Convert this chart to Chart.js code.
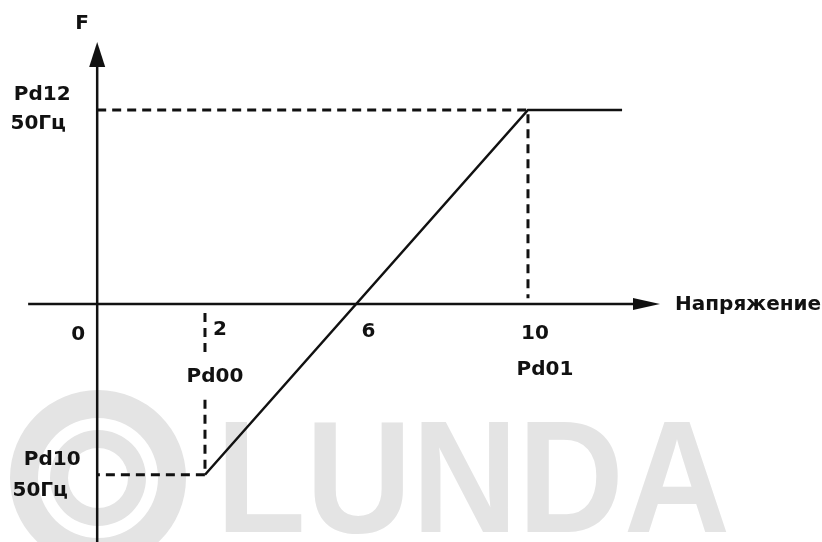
<!DOCTYPE html>
<html>
<head>
<meta charset="utf-8">
<script src="https://cdn.jsdelivr.net/npm/chart.js@4.4.1/dist/chart.umd.min.js"></script>
<style>
  html, body { margin: 0; padding: 0; background: #fff; }
  #chart { display: block; }
</style>
</head>
<body>
<canvas id="chart" width="822" height="542"></canvas>
<script>
// характеристика: напряжение -> частота
const voltage = [2, 10, 12.33];
const freq = [-44, 50, 50];

// пунктирные выноски
const guideUpperX = [-0.67, 10, 10];
const guideUpperY = [50, 50, 1.5];
const guideLowerX = [2, 2, null, 2, 2, -0.67];
const guideLowerY = [-2.3, -12.4, null, -24.7, -44, -44];

// подписи
const xTickValues = [2, 6, 10];
const xTickLabels = ['2', '6', '10'];
const xParamValues = [2, 10];
const xParamLabels = ['Pd00', 'Pd01'];
const yParamValues = [50, -44];
const yParamLabels = [['Pd12', '50Гц'], ['Pd10', '50Гц']];
const originLabel = '0';
const xAxisTitle = 'Напряжение';
const yAxisTitle = 'F';

const Y_AXIS_AT = -0.67;
const X_AXIS_FROM = -2.38, X_AXIS_TO = 13.27;
const Y_AXIS_TO = 67.5;

const FONT = 'bold 20px "DejaVu Sans", "Liberation Sans", Arial, sans-serif';
const INK = '#111';

function toPoints(xs, ys) {
    return xs.map((x, i) => (x === null ? { x: NaN, y: null } : { x: x, y: ys[i] }));
}

const watermark = {
    id: 'watermark',
    beforeDatasetsDraw(chart) {
        const ctx = chart.ctx;
        ctx.save();
        ctx.fillStyle = '#fff';
        ctx.fillRect(0, 0, chart.width, chart.height);
        ctx.fillStyle = '#e4e4e4';
        // логотип
        const cx = 98, cy = 478;
        ctx.beginPath();
        ctx.arc(cx, cy, 88, 0, Math.PI * 2);
        ctx.arc(cx, cy, 60, 0, Math.PI * 2, true);
        ctx.fill();
        ctx.beginPath();
        ctx.arc(cx, cy, 48, 0, Math.PI * 2);
        ctx.arc(cx, cy, 30, 0, Math.PI * 2, true);
        ctx.fill();
        ctx.font = 'bold 160px "Liberation Sans", Arial, sans-serif';
        ctx.textBaseline = 'alphabetic';
        ctx.fillText('LUNDA', 216, 532, 514);
        ctx.restore();
    }
};

const axesAndLabels = {
    id: 'axesAndLabels',
    afterDatasetsDraw(chart) {
        const ctx = chart.ctx;
        const xs = chart.scales.x, ys = chart.scales.y;
        const ax = xs.getPixelForValue(Y_AXIS_AT);
        const ay = ys.getPixelForValue(0);
        const x0 = xs.getPixelForValue(X_AXIS_FROM);
        const x1 = xs.getPixelForValue(X_AXIS_TO);
        const y1 = ys.getPixelForValue(Y_AXIS_TO);
        ctx.save();
        ctx.strokeStyle = INK;
        ctx.fillStyle = INK;
        ctx.lineWidth = 2.5;
        ctx.beginPath();
        ctx.moveTo(x0, ay); ctx.lineTo(x1 - 20, ay);
        ctx.moveTo(ax, chart.height); ctx.lineTo(ax, y1 + 20);
        ctx.stroke();
        // стрелки
        ctx.beginPath();
        ctx.moveTo(x1, ay); ctx.lineTo(x1 - 27, ay - 6); ctx.lineTo(x1 - 27, ay + 6); ctx.closePath();
        ctx.fill();
        ctx.beginPath();
        ctx.moveTo(ax, y1); ctx.lineTo(ax - 8, y1 + 25); ctx.lineTo(ax + 8, y1 + 25); ctx.closePath();
        ctx.fill();

        ctx.font = FONT;
        ctx.textAlign = 'center';
        ctx.textBaseline = 'middle';
        ctx.fillText(yAxisTitle, ax - 15, 24);
        ctx.fillText(originLabel, ax - 19, ay + 31);

        const tickDx = [15, 2, 7], tickDy = [26, 28, 30];
        xTickValues.forEach((v, i) => {
            ctx.fillText(xTickLabels[i], xs.getPixelForValue(v) + tickDx[i], ay + tickDy[i]);
        });
        const parDx = [10, 17], parDy = [73, 66];
        xParamValues.forEach((v, i) => {
            ctx.fillText(xParamLabels[i], xs.getPixelForValue(v) + parDx[i], ay + parDy[i]);
        });
        const yLab = [[[-55, -15], [-59, 14]], [[-45, -15], [-57, 16]]];
        yParamValues.forEach((v, i) => {
            const py = ys.getPixelForValue(v);
            yParamLabels[i].forEach((t, j) => {
                ctx.fillText(t, ax + yLab[i][j][0], py + yLab[i][j][1]);
            });
        });
        ctx.textAlign = 'left';
        ctx.fillText(xAxisTitle, x1 + 15, ay + 1);
        ctx.restore();
    }
};

new Chart(document.getElementById('chart'), {
    type: 'line',
    data: {
        datasets: [
            {
                data: toPoints(guideUpperX, guideUpperY),
                borderColor: INK,
                borderWidth: 3,
                borderDash: [9, 6],
                pointRadius: 0,
                tension: 0
            },
            {
                data: toPoints(guideLowerX, guideLowerY),
                borderColor: INK,
                borderWidth: 3,
                borderDash: [9, 6],
                pointRadius: 0,
                spanGaps: false,
                tension: 0
            },
            {
                data: toPoints(voltage, freq),
                borderColor: INK,
                borderWidth: 2.5,
                pointRadius: 0,
                tension: 0
            }
        ]
    },
    options: {
        responsive: false,
        animation: false,
        devicePixelRatio: 1,
        layout: { padding: 0 },
        plugins: { legend: { display: false }, tooltip: { enabled: false } },
        scales: {
            x: { type: 'linear', display: false, min: -3.077, max: 17.282 },
            y: { type: 'linear', display: false, min: -61.34, max: 78.35 }
        }
    },
    plugins: [watermark, axesAndLabels]
});
</script>
</body>
</html>
